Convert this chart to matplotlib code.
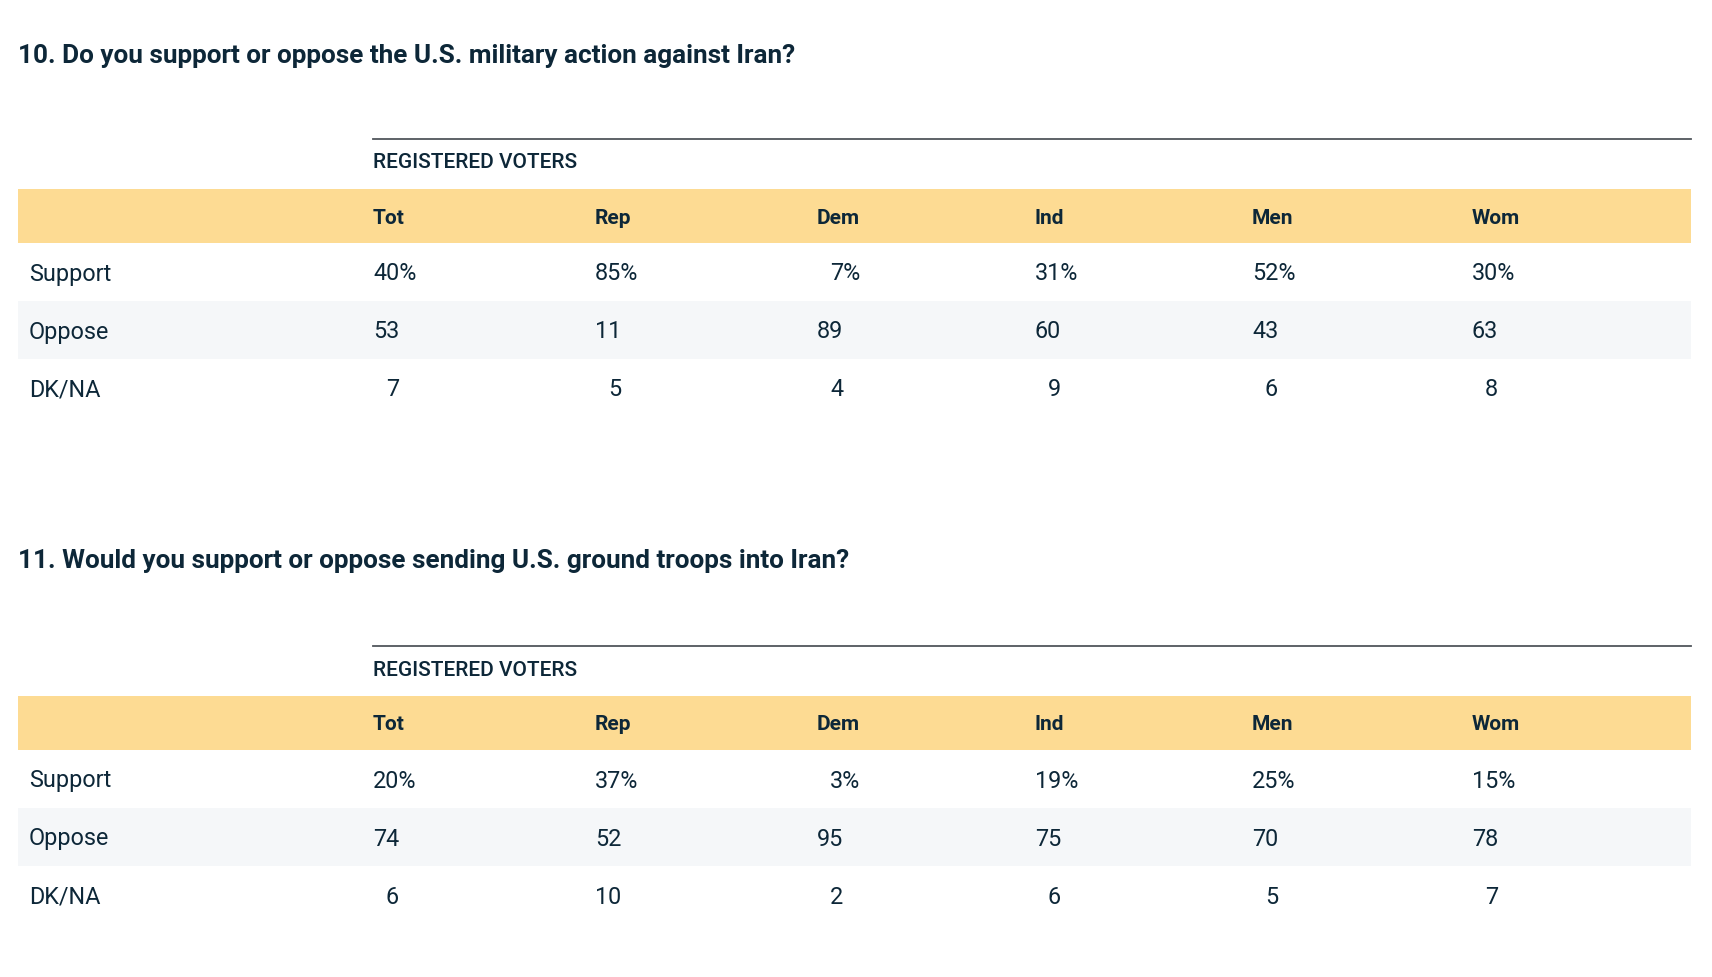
import matplotlib.pyplot as plt
from matplotlib.patches import Rectangle

plt.rcParams['font.family'] = ['Roboto', 'DejaVu Sans']

columns = ['Tot', 'Rep', 'Dem', 'Ind', 'Men', 'Wom']
row_labels = ['Support', 'Oppose', 'DK/NA']

q10_title = '10. Do you support or oppose the U.S. military action against Iran?'
q10_support = [40, 85, 7, 31, 52, 30]
q10_oppose = [53, 11, 89, 60, 43, 63]
q10_dkna = [7, 5, 4, 9, 6, 8]

q11_title = '11. Would you support or oppose sending U.S. ground troops into Iran?'
q11_support = [20, 37, 3, 19, 25, 15]
q11_oppose = [74, 52, 95, 75, 70, 78]
q11_dkna = [6, 10, 2, 6, 5, 7]

navy = '#0d2738'
yellow = '#fddb93'
grey = '#f5f7f9'

col_x = [373, 595, 817, 1035, 1252, 1472]
left, right = 18, 1691
digit_w = 13

fig = plt.figure(figsize=(17.12, 9.77), dpi=100)
ax = fig.add_axes([0, 0, 1, 1])
ax.set_xlim(0, 1712)
ax.set_ylim(977, 0)
ax.axis('off')


def draw_table(top, title, rows, title_dy=0):
    ax.text(left, top + 56 + title_dy, title, fontsize=18.8, fontweight='bold', color=navy,
            va='center')
    ax.plot([col_x[0], right], [top + 139, top + 139], color='#50565c', lw=1.3)
    ax.text(col_x[0], top + 163, 'REGISTERED VOTERS', fontsize=15, fontweight='medium',
            color=navy, va='center')
    ax.add_patch(Rectangle((left, top + 189), right - left, 54, color=yellow, lw=0))
    for x, c in zip(col_x, columns):
        ax.text(x, top + 218, c, fontsize=15, fontweight='bold', color=navy, va='center')
    for i, (lab, vals) in enumerate(zip(row_labels, rows)):
        y0 = top + 243 + i * 58
        if i == 1:
            ax.add_patch(Rectangle((left, y0), right - left, 58, color=grey, lw=0))
        yc = y0 + 31
        ax.text(29, yc, lab, fontsize=16.8, color=navy, va='center')
        for x, v in zip(col_x, vals):
            s = f'{v}%' if i == 0 else f'{v}'
            pad = (2 - len(str(v))) * digit_w
            ax.text(x + pad, yc, s, fontsize=16.8, color=navy, va='center')


draw_table(0, q10_title, [q10_support, q10_oppose, q10_dkna])
draw_table(507, q11_title, [q11_support, q11_oppose, q11_dkna], title_dy=-2)

fig.savefig('out.png', dpi=100, facecolor='white')
